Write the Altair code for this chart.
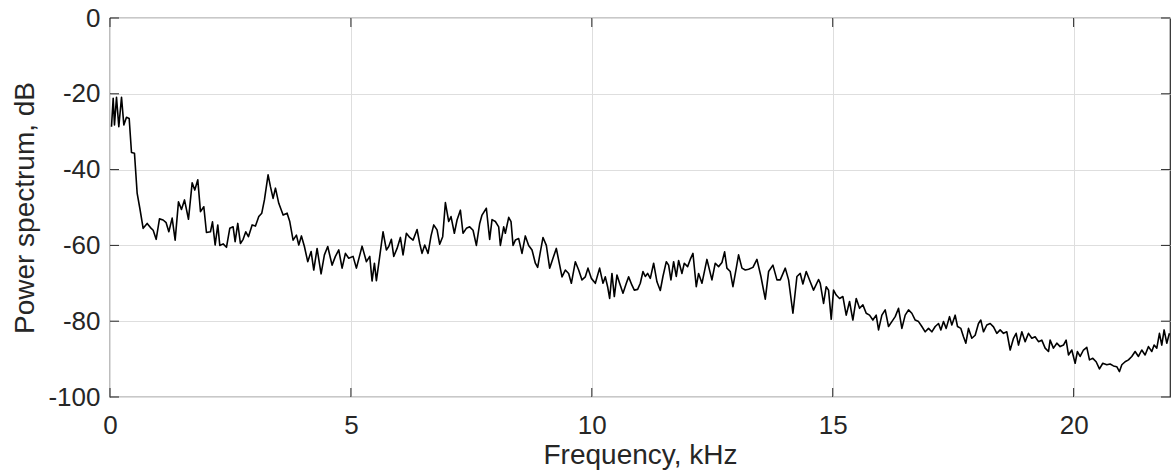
import altair as alt
import pandas as pd

# ---- data (frequency in kHz, power in dB) ----
band_0_35 = [
    (0.031, -28.7), (0.066, -21.2), (0.093, -28.2), (0.135, -20.9), (0.183, -28.7),
    (0.239, -20.9), (0.287, -28.2), (0.342, -26.2), (0.398, -26.5), (0.446, -35.5),
    (0.508, -35.7), (0.564, -46.3), (0.619, -50.2), (0.688, -55.5), (0.771, -54.2),
    (0.84, -55.3), (0.896, -56.0), (0.958, -58.4), (1.027, -53.0), (1.103, -53.3),
    (1.165, -54.0), (1.221, -56.4), (1.29, -52.8), (1.352, -58.6), (1.421, -48.5),
    (1.483, -50.5), (1.546, -48.0), (1.629, -53.1), (1.705, -43.5), (1.76, -45.4),
    (1.822, -42.7), (1.878, -51.1), (1.947, -49.8), (2.002, -56.6), (2.085, -56.4),
    (2.127, -53.8), (2.182, -59.9), (2.237, -54.6), (2.279, -60.0), (2.348, -59.6),
    (2.417, -60.5), (2.486, -55.5), (2.555, -55.1), (2.597, -59.0), (2.652, -54.2),
    (2.707, -59.5), (2.763, -58.4), (2.818, -56.4), (2.873, -57.7), (2.95, -54.6),
    (3.019, -54.9), (3.088, -52.4), (3.15, -51.5), (3.205, -48.0), (3.281, -41.4),
    (3.33, -44.5), (3.385, -47.6), (3.434, -44.9), (3.503, -48.9),
]
band_35_73 = [
    (3.593, -52.0), (3.676, -51.5), (3.731, -53.7), (3.8, -58.6), (3.869, -57.3),
    (3.918, -59.9), (3.973, -57.5), (4.035, -60.3), (4.104, -64.3), (4.174, -61.6),
    (4.229, -66.5), (4.298, -60.8), (4.381, -67.5), (4.45, -62.5), (4.519, -60.3),
    (4.609, -65.2), (4.678, -62.9), (4.748, -61.2), (4.817, -66.0), (4.886, -62.1),
    (4.955, -63.4), (5.045, -62.9), (5.114, -66.0), (5.232, -60.2), (5.322, -64.3),
    (5.391, -62.9), (5.439, -69.4), (5.488, -64.7), (5.529, -69.3), (5.598, -62.9),
    (5.667, -56.4), (5.736, -61.2), (5.785, -60.3), (5.84, -58.4), (5.889, -62.9),
    (5.958, -60.8), (6.027, -57.9), (6.082, -62.5), (6.151, -56.8), (6.221, -57.9),
    (6.29, -58.6), (6.373, -55.8), (6.428, -59.5), (6.476, -62.1), (6.532, -59.9),
    (6.601, -62.1), (6.663, -57.5), (6.719, -54.6), (6.788, -55.9), (6.843, -59.7),
    (6.905, -57.7), (6.961, -48.7), (7.03, -53.7), (7.078, -52.4), (7.147, -56.8),
    (7.203, -53.3), (7.272, -50.7),
]
band_73_110 = [
    (7.327, -56.8), (7.396, -55.5), (7.465, -55.1), (7.535, -56.0), (7.604, -60.0),
    (7.673, -54.2), (7.721, -52.0), (7.811, -50.2), (7.88, -58.4), (7.929, -53.2),
    (7.998, -53.7), (8.067, -55.1), (8.102, -60.0), (8.171, -55.1), (8.205, -56.8),
    (8.275, -52.6), (8.323, -53.7), (8.365, -60.0), (8.413, -58.6), (8.482, -58.2),
    (8.551, -62.1), (8.62, -57.5), (8.689, -60.0), (8.759, -61.2), (8.828, -64.7),
    (8.876, -65.8), (8.932, -61.7), (8.987, -57.9), (9.056, -60.0), (9.125, -66.0),
    (9.194, -63.4), (9.263, -60.8), (9.333, -65.2), (9.381, -68.3), (9.45, -66.5),
    (9.519, -67.4), (9.575, -70.0), (9.658, -64.3), (9.727, -66.5), (9.796, -69.1),
    (9.865, -68.3), (9.92, -66.0), (9.99, -68.7), (10.073, -70.0), (10.162, -66.0),
    (10.232, -70.0), (10.28, -68.3), (10.328, -70.9), (10.37, -74.0), (10.418, -67.4),
    (10.467, -73.5), (10.522, -67.8), (10.577, -70.0), (10.647, -72.6), (10.716, -70.0),
    (10.764, -68.3), (10.833, -70.5), (10.882, -71.8), (10.951, -71.6), (11.006, -70.0),
]
band_110_147 = [
    (11.062, -66.9), (11.11, -68.2), (11.158, -67.4), (11.214, -68.7), (11.283, -64.7),
    (11.352, -69.6), (11.421, -71.9), (11.476, -68.2), (11.546, -64.3), (11.594, -65.2),
    (11.642, -69.1), (11.698, -64.3), (11.753, -68.2), (11.801, -64.0), (11.871, -67.4),
    (11.919, -64.7), (11.988, -65.6), (12.043, -63.7), (12.099, -62.1), (12.168, -70.9),
    (12.216, -67.4), (12.286, -70.0), (12.389, -63.7), (12.493, -69.1), (12.562, -64.7),
    (12.631, -65.6), (12.701, -64.5), (12.756, -61.7), (12.804, -66.0), (12.873, -66.9),
    (12.929, -70.9), (12.998, -66.0), (13.046, -62.5), (13.116, -66.0), (13.185, -66.5),
    (13.254, -66.3), (13.344, -65.8), (13.427, -63.7), (13.51, -68.2), (13.6, -74.2),
    (13.669, -66.9), (13.759, -65.2), (13.842, -69.1), (13.911, -69.1), (14.015, -66.0),
    (14.084, -69.1), (14.174, -77.9), (14.257, -68.2), (14.326, -67.4), (14.381, -70.2),
    (14.45, -66.9), (14.533, -69.6), (14.602, -71.8), (14.706, -69.0),
]
band_147_183 = [
    (14.741, -70.0), (14.81, -75.3), (14.865, -70.9), (14.913, -71.8), (14.969, -79.5),
    (15.017, -71.8), (15.073, -73.1), (15.142, -74.0), (15.211, -73.5), (15.28, -78.4),
    (15.349, -74.8), (15.418, -79.7), (15.488, -74.0), (15.557, -76.6), (15.626, -75.7),
    (15.695, -77.9), (15.764, -78.4), (15.833, -79.7), (15.902, -78.4), (15.951, -82.3),
    (16.02, -78.4), (16.089, -77.0), (16.158, -81.4), (16.227, -80.1), (16.297, -78.8),
    (16.366, -76.6), (16.435, -81.9), (16.504, -78.4), (16.573, -77.0), (16.642, -77.9),
    (16.712, -79.7), (16.781, -80.1), (16.85, -81.4), (16.919, -82.8), (16.988, -81.9),
    (17.057, -82.8), (17.127, -81.4), (17.196, -80.6), (17.244, -82.3), (17.299, -80.1),
    (17.355, -81.9), (17.424, -78.8), (17.472, -81.0), (17.541, -78.4), (17.59, -81.4),
    (17.659, -81.9), (17.714, -84.1), (17.763, -85.8), (17.818, -81.9), (17.887, -84.5),
    (17.956, -83.7), (18.025, -80.6), (18.074, -79.7), (18.129, -82.8), (18.198, -81.0),
]
band_183_220 = [
    (18.268, -80.6), (18.337, -81.5), (18.406, -83.2), (18.475, -82.3), (18.544, -83.2),
    (18.613, -82.8), (18.683, -87.6), (18.752, -84.5), (18.807, -83.2), (18.856, -86.3),
    (18.925, -82.8), (18.994, -85.4), (19.063, -83.2), (19.132, -84.5), (19.201, -84.1),
    (19.27, -85.4), (19.339, -85.0), (19.409, -87.1), (19.478, -88.0), (19.512, -85.0),
    (19.581, -87.1), (19.651, -85.8), (19.72, -86.7), (19.789, -86.3), (19.844, -85.0),
    (19.893, -88.9), (19.962, -87.6), (20.031, -91.1), (20.079, -88.0), (20.135, -89.3),
    (20.204, -87.6), (20.273, -86.9), (20.329, -90.2), (20.398, -89.8), (20.467, -90.7),
    (20.536, -92.6), (20.605, -91.1), (20.688, -91.5), (20.757, -91.3), (20.826, -91.8),
    (20.895, -92.0), (20.951, -93.3), (21.0, -91.5), (21.068, -90.7), (21.138, -90.2),
    (21.207, -89.3), (21.276, -88.0), (21.345, -89.3), (21.414, -87.6), (21.483, -88.9),
    (21.553, -86.7), (21.622, -88.0), (21.67, -86.3), (21.726, -87.1), (21.781, -83.2),
    (21.829, -86.3), (21.878, -82.3), (21.933, -85.8), (21.988, -83.2),
]

x_ticks = [0, 5, 10, 15, 20]
y_ticks = [-100, -80, -60, -40, -20, 0]
x_title = "Frequency, kHz"
y_title = "Power spectrum, dB"

# ---- build table ----
rows = []
for band in (band_0_35, band_35_73, band_73_110, band_110_147, band_147_183, band_183_220):
    rows.extend(band)
df = pd.DataFrame(rows, columns=["f", "p"])
xt = pd.DataFrame({"f": x_ticks})
yt = pd.DataFrame({"p": y_ticks})

W, H = 1060, 379
FRAME = "#262626"
FONT = "Liberation Sans"

xscale = alt.Scale(domain=[0, 22], nice=False, zero=False)
yscale = alt.Scale(domain=[-100, 0], nice=False, zero=False)
x_axis = alt.Axis(values=x_ticks, title=x_title, labelPadding=15, titlePadding=3,
                  labelFlush=False, labelExpr="'' + datum.value")
y_axis = alt.Axis(values=y_ticks, title=y_title, labelPadding=10, titlePadding=8,
                  labelFlush=False, labelExpr="'' + datum.value")

line = alt.Chart(df).mark_line(color="#000000", strokeWidth=1.6, strokeJoin="round").encode(
    x=alt.X("f:Q", scale=xscale, axis=x_axis),
    y=alt.Y("p:Q", scale=yscale, axis=y_axis),
    order="f:Q",
)

tick_style = dict(color=FRAME, strokeWidth=1)
x_bottom = alt.Chart(xt).mark_rule(**tick_style).encode(
    x=alt.X("f:Q", scale=xscale, axis=x_axis), y=alt.value(H), y2=alt.value(H - 9))
x_top = alt.Chart(xt).mark_rule(**tick_style).encode(
    x=alt.X("f:Q", scale=xscale, axis=x_axis), y=alt.value(0), y2=alt.value(9))
y_left = alt.Chart(yt).mark_rule(**tick_style).encode(
    y=alt.Y("p:Q", scale=yscale, axis=y_axis), x=alt.value(0), x2=alt.value(9))
y_right = alt.Chart(yt).mark_rule(**tick_style).encode(
    y=alt.Y("p:Q", scale=yscale, axis=y_axis), x=alt.value(W), x2=alt.value(W - 9))

chart = alt.layer(line, x_bottom, x_top, y_left, y_right).properties(
    width=W, height=H,
    autosize=alt.AutoSizeParams(type="none"),
    padding={"left": 110, "top": 18, "right": 2, "bottom": 78},
    background="white",
).configure_view(
    stroke=FRAME, strokeWidth=1.2,
).configure_axis(
    domain=False, ticks=False, grid=True, gridColor="#dedede", gridWidth=1,
    labelFont=FONT, labelFontSize=26, labelColor=FRAME,
    titleFont=FONT, titleFontSize=28, titleFontWeight="normal", titleColor=FRAME,
)

chart.save("out.html", embed_options={"renderer": "svg", "actions": False})
